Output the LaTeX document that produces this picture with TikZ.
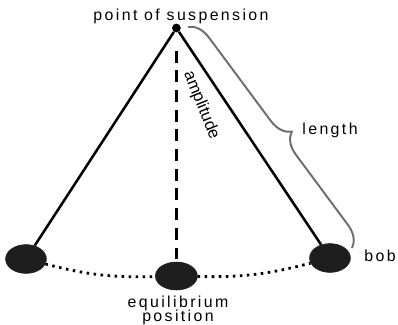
\documentclass[tikz,border=0pt]{standalone}
\usepackage{fontspec}
\usepackage{tikz}
\usetikzlibrary{shapes.geometric,decorations.pathreplacing}
\newfontfamily\labelfont[LetterSpace=15]{Liberation Sans}
\newfontfamily\plainfont{Liberation Sans}
\definecolor{bracegray}{RGB}{110,110,110}
\definecolor{massblack}{RGB}{30,30,30}

\begin{document}
\begin{tikzpicture}[
        pivotdot/.style={circle, fill=black, inner sep=0pt, minimum size=0.22cm},
        bobmass/.style={ellipse, fill=massblack, draw=massblack, inner sep=0pt, minimum width=1.02cm, minimum height=0.72cm},
        lbl/.style={font=\fontsize{11.3}{10.6}\selectfont\labelfont, inner sep=0pt, align=center},
        rod/.style={line width=1.8pt},
        eqline/.style={line width=2.6pt, dash pattern=on 8.5pt off 5.5pt},
        swing/.style={line width=2pt, dash pattern=on 1.8pt off 3.2pt},
        lengthbrace/.style={draw=bracegray, line width=1.4pt, decorate, decoration={brace, amplitude=15pt, aspect=0.53}}]

        \useasboundingbox (0,0) rectangle (9.95,-8.1);

        \node[pivotdot] (pivot) at (4.41,-0.7) {};
        \node[bobmass] (bobleft) at (0.65,-6.475) {};
        \node[bobmass, minimum width=1.05cm, minimum height=0.7cm] (bobmid) at (4.41,-6.9) {};
        \node[bobmass] (bobright) at (8.25,-6.45) {};
        \coordinate (bracetop) at (4.7,-0.675);
        \coordinate (bracebot) at (8.8,-6.2);

        \node[lbl] (susp) at (4.525,-0.4) {point of suspension};
        \node[lbl, font=\fontsize{11.8}{13}\selectfont\plainfont, rotate=-68] (ampl) at (5.03,-2.63) {amplitude};
        \node[lbl] (lenlbl) at (8.25,-3.25) {length};
        \node[lbl] (boblbl) at (9.5,-6.4) {bob};
        \node[lbl] (eqlbl) at (4.45,-7.76) {equilibrium\\position};

        \draw[rod] (pivot) -- (bobleft);
        \draw[rod] (pivot) -- (bobright);
        \draw[eqline, shorten <=0.45cm, shorten >=0.08cm] (pivot) -- (bobmid);
        \draw[swing] (bobleft) to[bend right=8] (bobmid);
        \draw[swing] (bobmid) to[bend right=8] (bobright);
        \draw[lengthbrace] (bracetop) -- (bracebot);

    \end{tikzpicture}
\end{document}
